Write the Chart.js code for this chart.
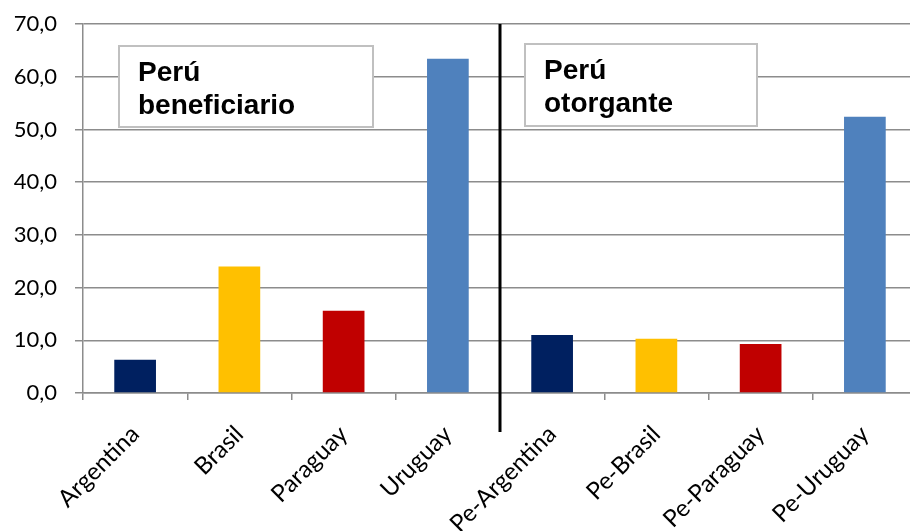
<!DOCTYPE html>
<html lang="es">
<head>
    <meta charset="UTF-8">
    <title>Perú beneficiario / otorgante</title>
    <script src="https://cdn.jsdelivr.net/npm/chart.js"></script>
    <style>
        html, body { margin: 0; padding: 0; background: #fff; overflow: hidden; }
        #chart { display: block; }
    </style>
</head>
<body>
    <canvas id="chart" width="917" height="531"></canvas>

    <script>
        // data
        const categories = ['Argentina', 'Brasil', 'Paraguay', 'Uruguay',
                            'Pe-Argentina', 'Pe-Brasil', 'Pe-Paraguay', 'Pe-Uruguay'];
        const values = [6.3, 24.0, 15.6, 63.4, 11.0, 10.3, 9.3, 52.4];
        const barColors = ['#002060', '#FFC000', '#C00000', '#4F81BD',
                           '#002060', '#FFC000', '#C00000', '#4F81BD'];
        const yTicks = [0, 10, 20, 30, 40, 50, 60, 70];
        const boxLabels = [['Perú', 'beneficiario'], ['Perú', 'otorgante']];

        const gridColor = '#8c8c8c';

        // text boxes + divider between the two groups
        const overlay = {
            id: 'overlay',
            afterDatasetsDraw(chart) {
                const ctx = chart.ctx;
                const area = chart.chartArea;
                const x = chart.scales.x;
                const splitX = (x.getPixelForValue(3) + x.getPixelForValue(4)) / 2;

                ctx.save();
                ctx.strokeStyle = '#000';
                ctx.lineWidth = 3;
                ctx.beginPath();
                ctx.moveTo(splitX, area.top);
                ctx.lineTo(splitX, area.bottom + 39);
                ctx.stroke();

                const boxes = [
                    { left: area.left + 36, top: area.top + 22, w: 254, h: 81, label: boxLabels[0] },
                    { left: splitX + 25, top: area.top + 20, w: 232, h: 82, label: boxLabels[1] }
                ];
                boxes.forEach(b => {
                    ctx.fillStyle = '#fff';
                    ctx.fillRect(b.left, b.top, b.w, b.h);
                    ctx.strokeStyle = '#c0c0c0';
                    ctx.lineWidth = 2;
                    ctx.strokeRect(b.left, b.top, b.w, b.h);
                    ctx.fillStyle = '#000';
                    ctx.font = 'bold 28px "Liberation Sans", Arial, sans-serif';
                    ctx.textBaseline = 'alphabetic';
                    ctx.textAlign = 'left';
                    b.label.forEach((t, i) => {
                        ctx.fillText(t, b.left + 19, b.top + 35 + i * 33);
                    });
                });
                ctx.restore();
            }
        };

        new Chart(document.getElementById('chart'), {
            type: 'bar',
            data: {
                labels: categories,
                datasets: [{
                    data: values,
                    backgroundColor: barColors,
                    barPercentage: 0.4,
                    categoryPercentage: 1.0
                }]
            },
            options: {
                responsive: false,
                animation: false,
                layout: { padding: { top: 24, right: 0, left: 0, bottom: 0 } },
                plugins: {
                    legend: { display: false },
                    tooltip: { enabled: false }
                },
                scales: {
                    x: {
                        grid: {
                            drawOnChartArea: false,
                            drawTicks: true,
                            tickLength: 7,
                            color: gridColor,
                            lineWidth: 1.5
                        },
                        border: { color: gridColor, width: 1.5 },
                        ticks: {
                            minRotation: 45,
                            maxRotation: 45,
                            padding: 20,
                            color: '#000',
                            font: { family: 'Lato', size: 24 }
                        },
                        afterFit(scale) {
                            scale.height = 138;
                            scale.paddingLeft = 0;
                            scale.paddingRight = 0;
                        }
                    },
                    y: {
                        min: 0,
                        max: 70,
                        afterBuildTicks(scale) {
                            scale.ticks = yTicks.map(v => ({ value: v }));
                        },
                        grid: {
                            color: gridColor,
                            lineWidth: 1.5,
                            tickLength: 8
                        },
                        border: { color: gridColor, width: 1.5 },
                        ticks: {
                            padding: 18,
                            color: '#000',
                            font: { family: 'Lato', size: 22 },
                            callback: v => v.toFixed(1).replace('.', ',')
                        },
                        afterFit(scale) {
                            scale.width = 83;
                            scale.paddingTop = 0;
                            scale.paddingBottom = 0;
                        }
                    }
                }
            },
            plugins: [overlay]
        });
    </script>
</body>
</html>
